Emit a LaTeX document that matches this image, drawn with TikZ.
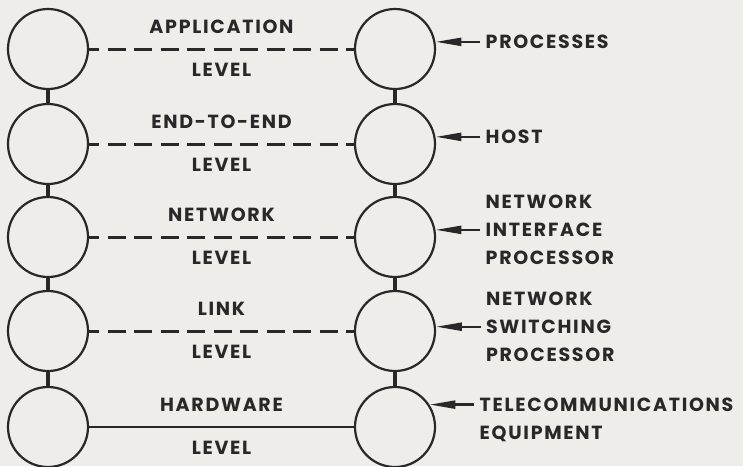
\documentclass[tikz,border=0pt]{standalone}
\usepackage{fontspec}
\setsansfont{Poppins}[LetterSpace=9]
\usepackage{tikz}
\usetikzlibrary{positioning,arrows.meta}
\definecolor{ink}{RGB}{40,40,40}
\definecolor{paper}{RGB}{238,237,234}
\tikzset{
	every picture/.style={/utils/exec={\sffamily\bfseries}},
	every node/.style = {font=\fontsize{19}{28}\selectfont, inner sep = 0, text=ink},
	unit/.style = {draw=ink, circle, minimum size=80pt, line width=2.2pt},
	bar/.style = {draw=ink, line width=4pt},
	peer/.style = {draw=ink, line width=3pt, dash pattern=on 18pt off 8.5pt, dash phase=8pt},
	tag/.style = {align=left, inner xsep=5pt},
	>={Triangle[length=26pt,width=8pt]}
}

\begin{document}
\begin{tikzpicture}[x=1pt, y=-1pt]
		\useasboundingbox[fill=paper] (0,0) rectangle (743,466);
		
		% layers of the two ends
		\node[unit] (L1) at (48,49) {};
		\node[unit] (L2) at (48,144) {};
		\node[unit] (L3) at (48,237) {};
		\node[unit] (L4) at (48,331) {};
		\node[unit] (L5) at (48,427) {};
		\node[unit] (R1) at (395,49) {};
		\node[unit] (R2) at (395,144) {};
		\node[unit] (R3) at (395,237) {};
		\node[unit] (R4) at (395,331) {};
		\node[unit] (R5) at (395,427) {};
		
		\foreach \a/\b in {1/2,2/3,3/4,4/5} {
			\draw[bar] (L\a) -- (L\b);
			\draw[bar] (R\a) -- (R\b);
		}
		
		% levels
		\path (L1) edge[peer] node[above=14pt]{APPLICATION} node[below=13pt]{LEVEL} (R1);
		\path (L2) edge[peer] node[above=14pt]{END-TO-END} node[below=13pt]{LEVEL} (R2);
		\path (L3) edge[peer] node[above=14pt]{NETWORK} node[below=13pt]{LEVEL} (R3);
		\path (L4) edge[peer] node[above=14pt]{LINK} node[below=13pt]{LEVEL} (R4);
		\path (L5) edge[draw=ink, line width=2.6pt] node[above=14pt]{HARDWARE} node[below=13pt]{LEVEL} (R5);
		
		% what sits at each layer
		\node[tag, right=45pt of R1.10] (processes) {PROCESSES};
		\node[tag, right=45pt of R2.10] (host) {HOST};
		\node[tag, right=45pt of R3.10] (nip) {NETWORK\\INTERFACE\\PROCESSOR};
		\node[tag, right=45pt of R4.6] (nsp) {NETWORK\\SWITCHING\\PROCESSOR};
		\node[tag, anchor=north west] (telecom) at ([xshift=45pt, yshift=7pt]R5.33) {TELECOMMUNICATIONS\\EQUIPMENT};
		
		\draw[->, ink, line width=2.4pt] (processes) -- (R1.10);
		\draw[->, ink, line width=2.4pt] (host) -- (R2.10);
		\draw[->, ink, line width=2.4pt] (nip) -- (R3.10);
		\draw[->, ink, line width=2.4pt] (nsp) -- (R4.6);
		\draw[->, ink, line width=2.4pt] (telecom.west |- R5.33) -- (R5.33);
\end{tikzpicture}
\end{document}
